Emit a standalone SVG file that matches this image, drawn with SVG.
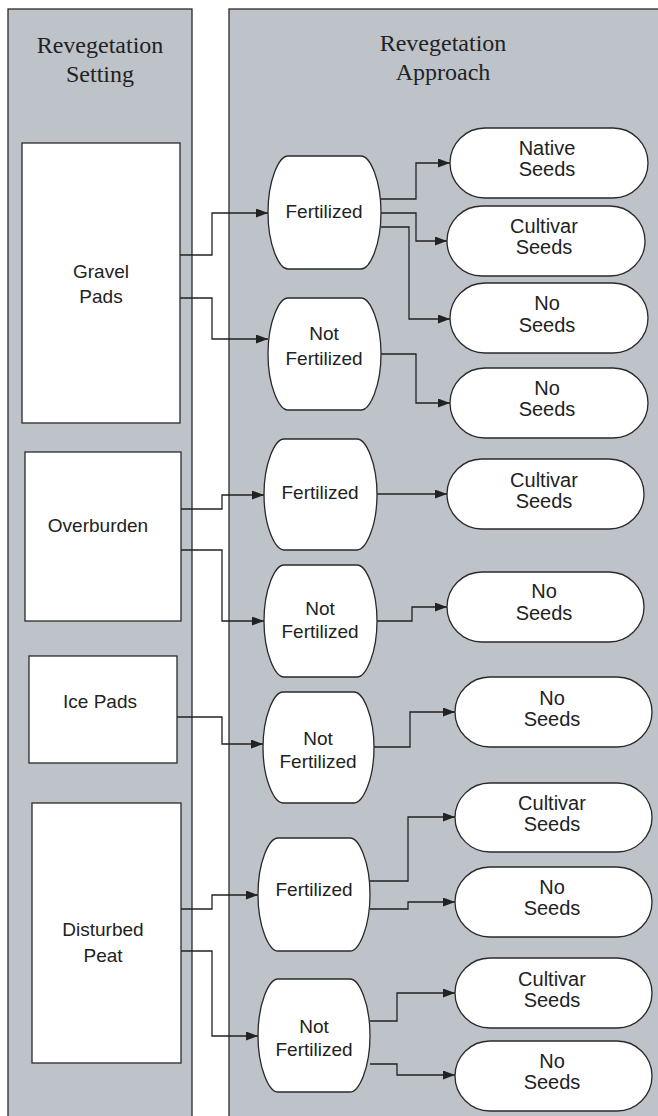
<svg xmlns="http://www.w3.org/2000/svg" width="658" height="1116" viewBox="0 0 658 1116">
<style>
.panel{fill:#bec2c9;stroke:#2a2a2a;stroke-width:1.3}
.box{fill:#fff;stroke:#2a2a2a;stroke-width:1.3}
.title{font-family:"Liberation Serif",serif;font-size:24px;fill:#222;text-anchor:middle}
.lbl{font-family:"Liberation Sans",Arial,sans-serif;font-size:19px;fill:#222;text-anchor:middle}
.sl{font-family:"Liberation Sans",Arial,sans-serif;font-size:20px;fill:#222;text-anchor:middle}
.conn{fill:none;stroke:#222;stroke-width:1.3}
</style>
<defs>
<marker id="arr" viewBox="0 0 12 9" refX="12" refY="4.5" markerWidth="12" markerHeight="9" markerUnits="userSpaceOnUse" orient="auto">
<path d="M0,0 L12,4.5 L0,9 Z" fill="#222"/>
</marker>
</defs>
<rect fill="#fff" x="0" y="0" width="658" height="1116"/>
<g id="panel-setting">
<rect class="panel" x="8" y="9" width="184" height="1120"/>
<text class="title" x="100" y="53">Revegetation</text>
<text class="title" x="100" y="82">Setting</text>
</g>
<g id="panel-approach">
<rect class="panel" x="229" y="9" width="440" height="1120"/>
<text class="title" x="443" y="51">Revegetation</text>
<text class="title" x="443" y="80">Approach</text>
</g>
<g id="connectors" class="conn" marker-end="url(#arr)">
<path d="M180,255 H212 V213 H268"/>
<path d="M180,298 H212 V339 H268"/>
<path d="M381,199 H416 V163 H450"/>
<path d="M381,213 H416 V241 H447"/>
<path d="M381,227 H409 V319 H450"/>
<path d="M381,354 H416 V403 H450"/>
<path d="M181,509 H222 V495 H264"/>
<path d="M181,550 H222 V621 H264"/>
<path d="M377,494 H447"/>
<path d="M377,621 H412 V607 H447"/>
<path d="M177,717 H222 V744 H263"/>
<path d="M374,747 H410 V712 H455"/>
<path d="M181,909 H212 V895 H258"/>
<path d="M181,951 H212 V1036 H258"/>
<path d="M370,881 H408 V817 H455"/>
<path d="M370,909 H408 V902 H455"/>
<path d="M370,1021 H397 V993 H455"/>
<path d="M370,1064 H397 V1075 H455"/>
</g>
<g id="gravel-pads">
<rect class="box" x="22" y="143" width="158" height="280"/>
<text class="lbl" x="101" y="278">Gravel</text>
<text class="lbl" x="101" y="303">Pads</text>
</g>
<g id="overburden">
<rect class="box" x="25" y="452" width="156" height="169"/>
<text class="lbl" x="98" y="532">Overburden</text>
</g>
<g id="ice-pads">
<rect class="box" x="29" y="656" width="148" height="107"/>
<text class="lbl" x="100" y="708">Ice Pads</text>
</g>
<g id="disturbed-peat">
<rect class="box" x="32" y="803" width="149" height="260"/>
<text class="lbl" x="103" y="936">Disturbed</text>
<text class="lbl" x="103" y="962">Peat</text>
</g>
<g id="gp-fertilized">
<path class="box" d="M288,156 H361 C370,156 381,180 381,212.5 C381,245 370,269 361,269 H288 C279,269 268,245 268,212.5 C268,180 279,156 288,156 Z"/>
<text class="lbl" x="324" y="218">Fertilized</text>
</g>
<g id="gp-not-fertilized">
<path class="box" d="M288,298 H361 C370,298 381,322 381,354 C381,386 370,410 361,410 H288 C279,410 268,386 268,354 C268,322 279,298 288,298 Z"/>
<text class="lbl" x="324" y="340">Not</text>
<text class="lbl" x="324" y="365">Fertilized</text>
</g>
<g id="ob-fertilized">
<path class="box" d="M284,439 H357 C366,439 377,463 377,494.5 C377,526 366,550 357,550 H284 C275,550 264,526 264,494.5 C264,463 275,439 284,439 Z"/>
<text class="lbl" x="320" y="499">Fertilized</text>
</g>
<g id="ob-not-fertilized">
<path class="box" d="M284,565 H357 C366,565 377,589 377,621 C377,653 366,677 357,677 H284 C275,677 264,653 264,621 C264,589 275,565 284,565 Z"/>
<text class="lbl" x="320" y="615">Not</text>
<text class="lbl" x="320" y="638">Fertilized</text>
</g>
<g id="ip-not-fertilized">
<path class="box" d="M283,692 H354 C363,692 374,716 374,747.5 C374,779 363,803 354,803 H283 C274,803 263,779 263,747.5 C263,716 274,692 283,692 Z"/>
<text class="lbl" x="318" y="745">Not</text>
<text class="lbl" x="318" y="768">Fertilized</text>
</g>
<g id="dp-fertilized">
<path class="box" d="M278,838 H350 C359,838 370,862 370,894.5 C370,927 359,951 350,951 H278 C269,951 258,927 258,894.5 C258,862 269,838 278,838 Z"/>
<text class="lbl" x="314" y="896">Fertilized</text>
</g>
<g id="dp-not-fertilized">
<path class="box" d="M278,979 H350 C359,979 370,1003 370,1035.5 C370,1068 359,1092 350,1092 H278 C269,1092 258,1068 258,1035.5 C258,1003 269,979 278,979 Z"/>
<text class="lbl" x="314" y="1033">Not</text>
<text class="lbl" x="314" y="1056">Fertilized</text>
</g>
<g id="s1-native">
<rect class="box" x="450" y="128" width="198" height="70" rx="35" ry="35"/>
<text class="sl" x="547" y="155">Native</text>
<text class="sl" x="547" y="176">Seeds</text>
</g>
<g id="s2-cultivar">
<rect class="box" x="447" y="206" width="198" height="70" rx="35" ry="35"/>
<text class="sl" x="544" y="233">Cultivar</text>
<text class="sl" x="544" y="254">Seeds</text>
</g>
<g id="s3-no">
<rect class="box" x="450" y="283" width="198" height="70" rx="35" ry="35"/>
<text class="sl" x="547" y="310">No</text>
<text class="sl" x="547" y="332">Seeds</text>
</g>
<g id="s4-no">
<rect class="box" x="450" y="368" width="198" height="70" rx="35" ry="35"/>
<text class="sl" x="547" y="395">No</text>
<text class="sl" x="547" y="416">Seeds</text>
</g>
<g id="s5-cultivar">
<rect class="box" x="447" y="459" width="197" height="70" rx="35" ry="35"/>
<text class="sl" x="544" y="487">Cultivar</text>
<text class="sl" x="544" y="508">Seeds</text>
</g>
<g id="s6-no">
<rect class="box" x="447" y="572" width="197" height="70" rx="35" ry="35"/>
<text class="sl" x="544" y="598">No</text>
<text class="sl" x="544" y="620">Seeds</text>
</g>
<g id="s7-no">
<rect class="box" x="455" y="677" width="197" height="70" rx="35" ry="35"/>
<text class="sl" x="552" y="705">No</text>
<text class="sl" x="552" y="726">Seeds</text>
</g>
<g id="s8-cultivar">
<rect class="box" x="455" y="783" width="197" height="69" rx="35" ry="35"/>
<text class="sl" x="552" y="810">Cultivar</text>
<text class="sl" x="552" y="831">Seeds</text>
</g>
<g id="s9-no">
<rect class="box" x="455" y="867" width="197" height="70" rx="35" ry="35"/>
<text class="sl" x="552" y="894">No</text>
<text class="sl" x="552" y="915">Seeds</text>
</g>
<g id="s10-cultivar">
<rect class="box" x="455" y="958" width="197" height="70" rx="35" ry="35"/>
<text class="sl" x="552" y="986">Cultivar</text>
<text class="sl" x="552" y="1007">Seeds</text>
</g>
<g id="s11-no">
<rect class="box" x="455" y="1041" width="197" height="70" rx="35" ry="35"/>
<text class="sl" x="552" y="1068">No</text>
<text class="sl" x="552" y="1089">Seeds</text>
</g>
</svg>
